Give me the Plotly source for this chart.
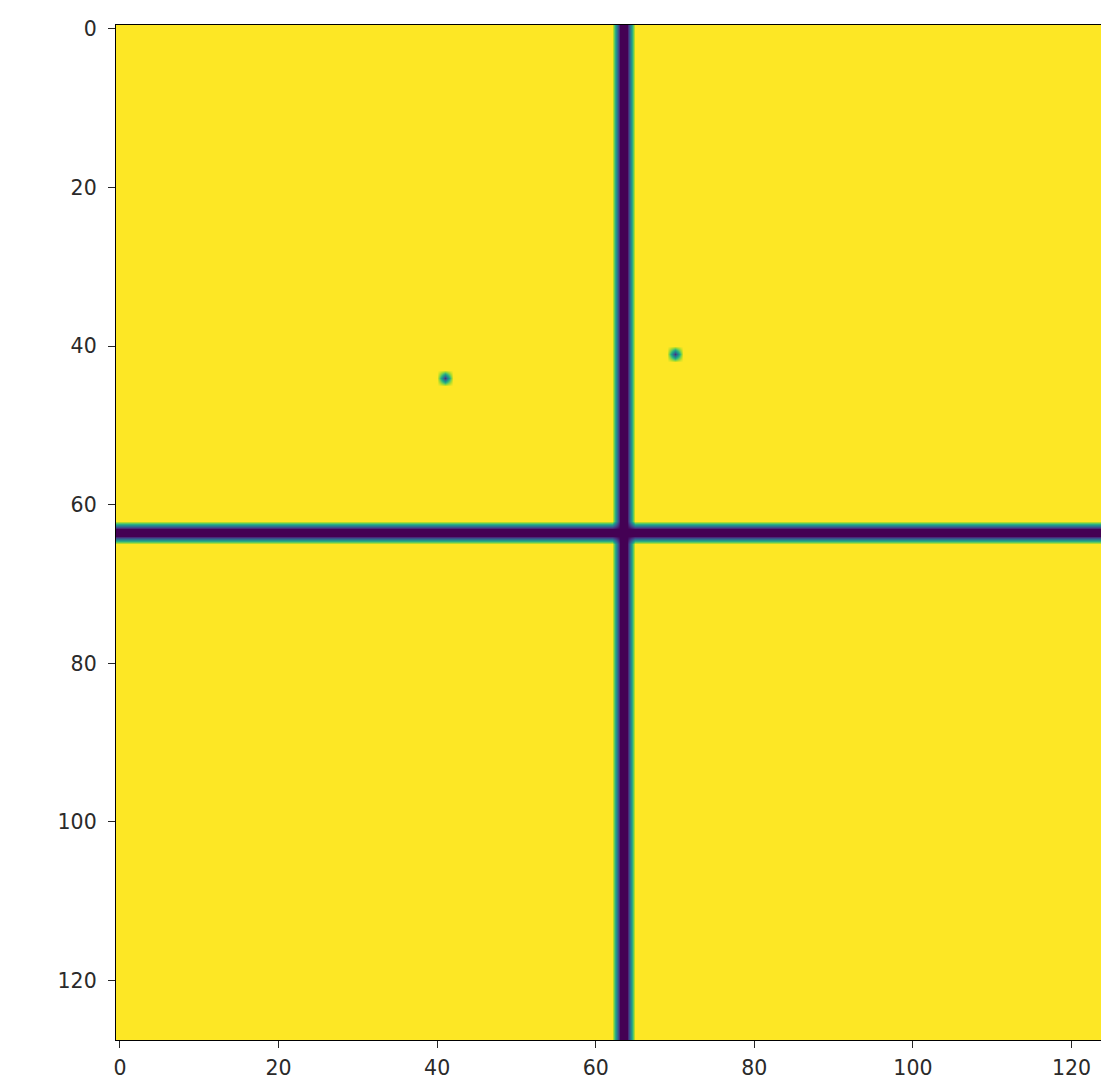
import numpy as np
import plotly.graph_objects as go

# Image size and features (pixel indices)
size = 128
background_value = 1.0
cross_rows = [63, 64]
cross_cols = [63, 64]
cross_value = 0.0
dot_cols = [41, 70]
dot_rows = [44, 41]
dot_values = [0.15, 0.15]

tick_vals = [0, 20, 40, 60, 80, 100, 120]
tick_text = ["0", "20", "40", "60", "80", "100", "120"]

img = np.full((size, size), background_value)
for r in cross_rows:
    img[r, :] = cross_value
for c in cross_cols:
    img[:, c] = cross_value
for c, r, v in zip(dot_cols, dot_rows, dot_values):
    img[r, c] = v

fig = go.Figure(
    go.Heatmap(
        z=img,
        x=np.arange(size),
        y=np.arange(size),
        colorscale="Viridis",
        zmin=0,
        zmax=1,
        zsmooth="best",
        showscale=False,
        hoverinfo="skip",
    )
)

W, H = 1101, 1085
left, top, bottom = 116, 25, 45
plot_h = H - top - bottom
px_per_unit = plot_h / size
x_right = -0.5 + (W - left) / px_per_unit

axis_font = dict(family="DejaVu Sans", size=20.5, color="#2a2a2a")

common_axis = dict(
    tickvals=tick_vals,
    ticktext=tick_text,
    ticks="outside",
    ticklen=7,
    tickwidth=1.4,
    tickcolor="#262626",
    tickfont=axis_font,
    showline=True,
    linecolor="black",
    linewidth=1.4,
    showgrid=False,
    zeroline=False,
)

fig.update_layout(
    width=W,
    height=H,
    margin=dict(l=left, r=0, t=top, b=bottom, pad=0),
    paper_bgcolor="white",
    plot_bgcolor="white",
    showlegend=False,
    xaxis=dict(range=[-0.5, x_right], mirror=True, ticklabelstandoff=2, **common_axis),
    yaxis=dict(range=[size - 0.5, -0.5], mirror=False, ticklabelstandoff=7, **common_axis),
)

fig.write_html("out.html")
